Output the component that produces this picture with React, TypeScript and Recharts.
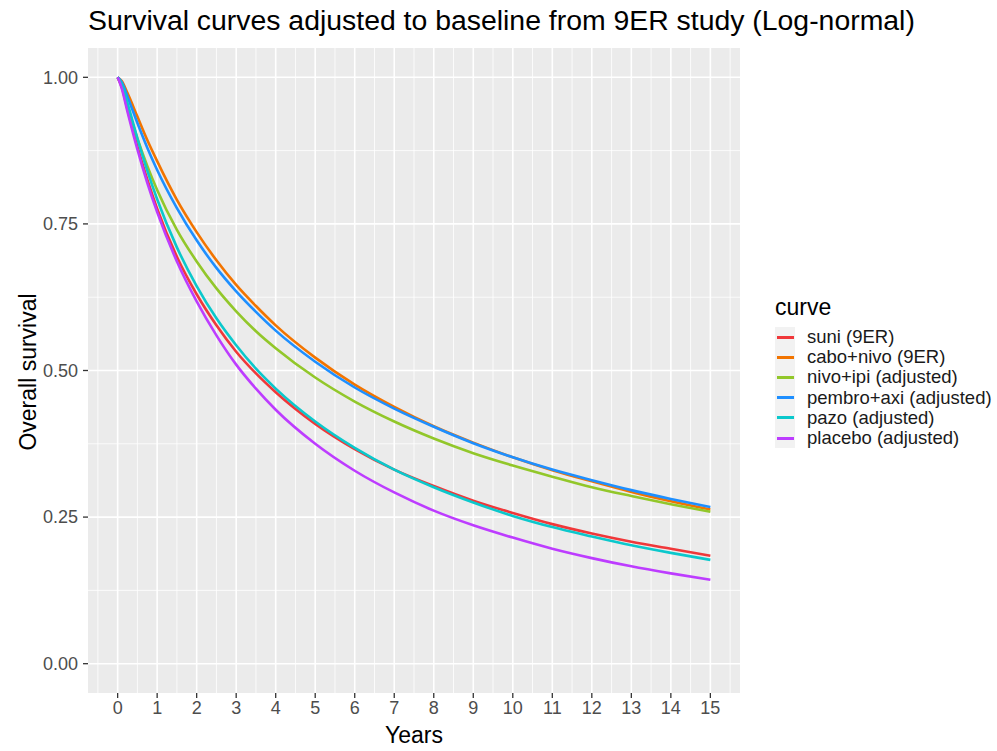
import React from "react";
import {
  LineChart,
  Line,
  XAxis,
  YAxis,
  ReferenceLine,
  ReferenceArea,
} from "recharts";

// Time points (years) at which each survival curve is tabulated
const years = [0, 0.1, 0.25, 0.5, 0.75, 1, 1.5, 2, 2.5, 3, 3.5, 4, 5, 6, 7, 8, 9, 10, 11, 12, 13, 14, 15];

// Overall survival per curve
const suni = [1, 0.984, 0.945, 0.882, 0.826, 0.776, 0.694, 0.63, 0.577, 0.532, 0.495, 0.463, 0.409, 0.366, 0.331, 0.303, 0.278, 0.257, 0.238, 0.222, 0.208, 0.196, 0.184];
const caboNivo = [1, 0.994, 0.973, 0.933, 0.893, 0.857, 0.791, 0.736, 0.688, 0.646, 0.61, 0.577, 0.522, 0.476, 0.438, 0.405, 0.377, 0.352, 0.33, 0.311, 0.293, 0.277, 0.263];
const nivoIpi = [1, 0.985, 0.95, 0.896, 0.849, 0.808, 0.74, 0.686, 0.64, 0.601, 0.567, 0.538, 0.488, 0.447, 0.413, 0.384, 0.359, 0.338, 0.319, 0.301, 0.286, 0.272, 0.259];
const pembroAxi = [1, 0.992, 0.967, 0.922, 0.88, 0.842, 0.777, 0.722, 0.675, 0.635, 0.6, 0.568, 0.515, 0.471, 0.435, 0.404, 0.376, 0.352, 0.331, 0.313, 0.296, 0.281, 0.267];
const pazo = [1, 0.989, 0.956, 0.896, 0.841, 0.792, 0.71, 0.644, 0.589, 0.543, 0.503, 0.469, 0.413, 0.368, 0.331, 0.301, 0.275, 0.252, 0.233, 0.217, 0.202, 0.189, 0.177];
const placebo = [1, 0.982, 0.941, 0.877, 0.82, 0.77, 0.686, 0.618, 0.56, 0.51, 0.469, 0.433, 0.375, 0.329, 0.292, 0.261, 0.236, 0.215, 0.196, 0.18, 0.166, 0.154, 0.143];

// Axis ticks
const xTicks = [0, 1, 2, 3, 4, 5, 6, 7, 8, 9, 10, 11, 12, 13, 14, 15];
const xMinor = [-0.5, 0.5, 1.5, 2.5, 3.5, 4.5, 5.5, 6.5, 7.5, 8.5, 9.5, 10.5, 11.5, 12.5, 13.5, 14.5, 15.5];
const yTicks = [0, 0.25, 0.5, 0.75, 1];
const yMinor = [0.125, 0.375, 0.625, 0.875];

const series = [
  { key: "suni", name: "suni (9ER)", values: suni, color: "#F0383A" },
  { key: "caboNivo", name: "cabo+nivo (9ER)", values: caboNivo, color: "#F27400" },
  { key: "nivoIpi", name: "nivo+ipi (adjusted)", values: nivoIpi, color: "#92C72A" },
  { key: "pembroAxi", name: "pembro+axi (adjusted)", values: pembroAxi, color: "#1E8FFF" },
  { key: "pazo", name: "pazo (adjusted)", values: pazo, color: "#0BC8CC" },
  { key: "placebo", name: "placebo (adjusted)", values: placebo, color: "#BD3CFF" },
];

const rows = years.map((t, i) => {
  const row: Record<string, number> = { t };
  series.forEach((s) => {
    row[s.key] = s.values[i];
  });
  return row;
});

const FONT = "'Liberation Sans', Arial, Helvetica, sans-serif";

const LegendBox = () => (
  <div style={{ position: "absolute", left: 775, top: 294, fontFamily: FONT, color: "#000" }}>
    <div style={{ fontSize: 23, lineHeight: "26px", marginBottom: 7 }}>curve</div>
    {series.map((s) => (
      <div key={s.key} style={{ display: "flex", alignItems: "center", height: 20.2 }}>
        <div
          style={{
            width: 20,
            height: 20.2,
            background: "#F2F2F2",
            display: "flex",
            alignItems: "center",
            justifyContent: "center",
          }}
        >
          <div style={{ width: 17, height: 3, background: s.color }} />
        </div>
        <span style={{ fontSize: 18.5, marginLeft: 12, color: "#1a1a1a", whiteSpace: "nowrap" }}>{s.name}</span>
      </div>
    ))}
  </div>
);

export default function App() {
  return (
    <div style={{ position: "absolute", left: 0, top: 0, width: 997, height: 751, background: "#fff" }}>
      <LineChart
        width={997}
        height={751}
        data={rows}
        margin={{ top: 48, right: 257, bottom: 28, left: 28 }}
        style={{ position: "absolute", left: 0, top: 0 }}
      >
        <XAxis
          dataKey="t"
          type="number"
          domain={[-0.75, 15.75]}
          ticks={xTicks}
          interval={0}
          allowDataOverflow
          axisLine={false}
          tickLine={{ stroke: "#333333", strokeWidth: 1.3 }}
          tickSize={5}
          tickMargin={3}
          height={30}
          tick={{ fill: "#4D4D4D", fontSize: 18, fontFamily: FONT }}
        />
        <YAxis
          type="number"
          domain={[-0.05, 1.05]}
          ticks={yTicks}
          interval={0}
          allowDataOverflow
          axisLine={false}
          tickLine={{ stroke: "#333333", strokeWidth: 1.3 }}
          tickSize={5}
          tickMargin={5}
          width={60}
          tickFormatter={(v: number) => v.toFixed(2)}
          tick={{ fill: "#4D4D4D", fontSize: 18, fontFamily: FONT }}
        />
        <ReferenceArea x1={-0.75} x2={15.75} y1={-0.05} y2={1.05} fill="#EBEBEB" fillOpacity={1} stroke="none" />
        {xMinor.map((v) => (
          <ReferenceLine key={`xm${v}`} x={v} stroke="#FFFFFF" strokeWidth={0.8} />
        ))}
        {yMinor.map((v) => (
          <ReferenceLine key={`ym${v}`} y={v} stroke="#FFFFFF" strokeWidth={0.8} />
        ))}
        {xTicks.map((v) => (
          <ReferenceLine key={`xM${v}`} x={v} stroke="#FFFFFF" strokeWidth={1.6} />
        ))}
        {yTicks.map((v) => (
          <ReferenceLine key={`yM${v}`} y={v} stroke="#FFFFFF" strokeWidth={1.6} />
        ))}
        {series.map((s) => (
          <Line
            key={s.key}
            dataKey={s.key}
            name={s.name}
            type="monotone"
            stroke={s.color}
            strokeWidth={2.6}
            dot={false}
            activeDot={false}
            isAnimationActive={false}
          />
        ))}
      </LineChart>
      <div
        style={{
          position: "absolute",
          left: 88,
          top: 4,
          fontFamily: FONT,
          fontSize: 28.4,
          color: "#000",
          whiteSpace: "nowrap",
        }}
      >
        Survival curves adjusted to baseline from 9ER study (Log-normal)
      </div>
      <div
        style={{
          position: "absolute",
          left: 414,
          top: 735,
          transform: "translate(-50%, -50%)",
          fontFamily: FONT,
          fontSize: 23,
          color: "#000",
          whiteSpace: "nowrap",
        }}
      >
        Years
      </div>
      <div
        style={{
          position: "absolute",
          left: 28,
          top: 372,
          transform: "translate(-50%, -50%) rotate(-90deg)",
          fontFamily: FONT,
          fontSize: 23,
          color: "#000",
          whiteSpace: "nowrap",
        }}
      >
        Overall survival
      </div>
      <LegendBox />
    </div>
  );
}
